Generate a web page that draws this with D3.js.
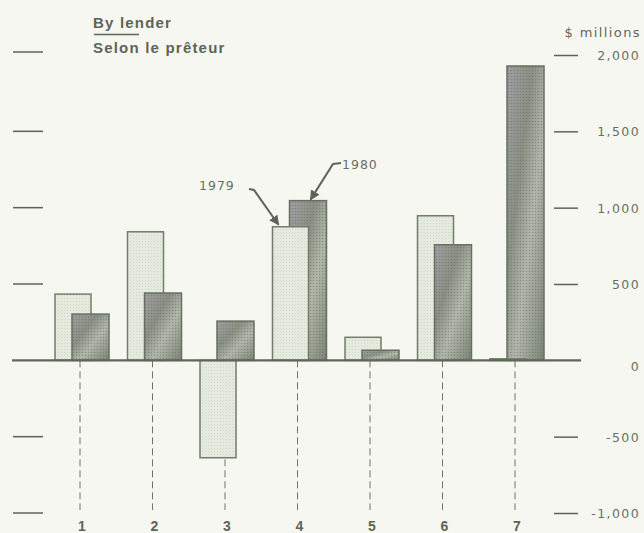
<!DOCTYPE html>
<html><head><meta charset="utf-8">
<script src="https://cdn.jsdelivr.net/npm/d3@7"></script>
<style>
html,body{margin:0;padding:0;background:#f7f7f2;}
svg{display:block;font-family:"Liberation Sans",Arial,sans-serif;}
</style></head>
<body>
<script>
const categories = ["1","2","3","4","5","6","7"];
const values1979 = [434, 842, -638, 875, 151, 947, 10];
const values1980 = [303, 441, 257, 1046, 66, 757, 1928];
const tickValues = [-1000, -500, 0, 500, 1000, 1500, 2000];
const tickLabels = ["-1,000", "-500", "0", "500", "1,000", "1,500", "2,000"];
const seriesNames = ["1979", "1980"];

const W = 644, H = 533;
const svg = d3.select("body").append("svg").attr("width", W).attr("height", H);
svg.append("rect").attr("width", W).attr("height", H).attr("fill", "#f7f7f2");

const defs = svg.append("defs");
const p1 = defs.append("pattern").attr("id","p79").attr("width",3).attr("height",3).attr("patternUnits","userSpaceOnUse");
p1.append("rect").attr("width",3).attr("height",3).attr("fill","#e4eadd");
p1.append("circle").attr("cx",1.5).attr("cy",1.5).attr("r",0.6).attr("fill","#cfd5c6");
const g2 = defs.append("linearGradient").attr("id","g80").attr("x1","0").attr("y1","0").attr("x2","1").attr("y2","1");
g2.append("stop").attr("offset","0%").attr("stop-color","#a39fa6");
g2.append("stop").attr("offset","35%").attr("stop-color","#8a9184");
g2.append("stop").attr("offset","60%").attr("stop-color","#b3b8ac");
g2.append("stop").attr("offset","100%").attr("stop-color","#7c8477");
const p2 = defs.append("pattern").attr("id","p80dots").attr("width",3).attr("height",3).attr("patternUnits","userSpaceOnUse");
p2.append("circle").attr("cx",1.5).attr("cy",1.5).attr("r",0.8).attr("fill","#5f675a").attr("opacity",0.45);

const y = d3.scaleLinear().domain([-1000, 2000]).range([513, 55]);
const x = d3.scalePoint().domain(categories).range([80, 515]);

const ink = "#5c6555";
const txt = "#68705f";
const wide = "'DejaVu Sans', Verdana, sans-serif";

// dashed category lines
svg.append("g").selectAll("line").data(categories).join("line")
  .attr("x1", d => x(d)).attr("x2", d => x(d))
  .attr("y1", y(0)).attr("y2", 510)
  .attr("stroke", "#6d7566").attr("stroke-width", 1).attr("stroke-dasharray", "7,4");

// bars: taller bar drawn first, shorter bar in front
const barData = [];
categories.forEach((c, i) => {
  const b79 = {c, s: 0, v: values1979[i]};
  const b80 = {c, s: 1, v: values1980[i]};
  if (Math.abs(b79.v) >= Math.abs(b80.v)) barData.push(b79, b80); else barData.push(b80, b79);
});
const offs = [[-25, 36], [-8, 37]];
const bars = svg.append("g");
const groups = bars.selectAll("g").data(barData).join("g");
groups.append("rect")
  .attr("x", d => x(d.c) + offs[d.s][0])
  .attr("width", d => offs[d.s][1])
  .attr("y", d => Math.min(y(d.v), y(0)))
  .attr("height", d => Math.abs(y(d.v) - y(0)))
  .attr("fill", d => d.s === 0 ? "url(#p79)" : "url(#g80)")
  .attr("stroke", d => d.s === 0 ? "#737c6a" : "#667060")
  .attr("stroke-width", 1.5);
groups.filter(d => d.s === 1).append("rect")
  .attr("x", d => x(d.c) + offs[d.s][0])
  .attr("width", d => offs[d.s][1])
  .attr("y", d => Math.min(y(d.v), y(0)))
  .attr("height", d => Math.abs(y(d.v) - y(0)))
  .attr("fill", "url(#p80dots)");

// baseline
svg.append("line").attr("x1", 12).attr("x2", 581).attr("y1", y(0)).attr("y2", y(0))
  .attr("stroke", "#5f6858").attr("stroke-width", 2.4);

// left ticks
svg.append("g").selectAll("line").data(tickValues.filter(v => v !== 0)).join("line")
  .attr("x1", 13).attr("x2", 43).attr("y1", d => y(d) - (d === 2000 ? 3 : 0)).attr("y2", d => y(d) - (d === 2000 ? 3 : 0))
  .attr("stroke", ink).attr("stroke-width", 1.5);

// right axis
const ra = svg.append("g").attr("transform", "translate(578,0)")
  .call(d3.axisLeft(y).tickValues(tickValues).tickSize(24).tickFormat((d,i) => tickLabels[i]));
ra.select(".domain").remove();
ra.selectAll(".tick line").attr("stroke", ink).attr("stroke-width", 1.5)
  .attr("display", d => d === 0 ? "none" : null);
ra.selectAll(".tick text").attr("x", 62).attr("text-anchor", "end")
  .attr("font-family", wide).attr("fill", txt).attr("font-size", 12.5).attr("letter-spacing", 1.4).attr("dy", "0.35em");
ra.selectAll(".tick").filter(d => d === 0).select("text").attr("dy", "0.8em");

svg.append("text").attr("x", 641).attr("y", 37).attr("text-anchor", "end")
  .attr("font-family", wide).attr("font-size", 13).attr("letter-spacing", 1.4).attr("fill", "#5f6858").text("$ millions");

// category labels
svg.append("g").selectAll("text").data(categories).join("text")
  .attr("x", d => x(d) + 2).attr("y", 531).attr("text-anchor", "middle")
  .attr("font-size", 14).attr("font-weight", "bold").attr("fill", "#5d6654").text(d => d);

// title
svg.append("text").attr("x", 93).attr("y", 28).attr("font-size", 15).attr("font-weight", "bold")
  .attr("letter-spacing", 1.2).attr("fill", "#5d6556").text("By lender");
svg.append("line").attr("x1", 94).attr("x2", 139).attr("y1", 34.5).attr("y2", 34.5)
  .attr("stroke", "#5d6556").attr("stroke-width", 1.3);
svg.append("text").attr("x", 93).attr("y", 53).attr("font-size", 15).attr("font-weight", "bold")
  .attr("letter-spacing", 1.2).attr("fill", "#5d6556").text("Selon le prêteur");

// annotations
defs.append("marker").attr("id","arr").attr("viewBox","0 0 10 10").attr("refX",9).attr("refY",5)
  .attr("markerWidth",5).attr("markerHeight",5).attr("orient","auto")
  .append("path").attr("d","M0,0L10,5L0,10z").attr("fill","#5d6556");
const a79x = x("4") + offs[0][0], a80x = x("4") + offs[1][0];
svg.append("text").attr("x", 199).attr("y", 190).attr("font-family", wide).attr("font-size", 12.5).attr("letter-spacing", 1)
  .attr("fill", txt).text(seriesNames[0]);
svg.append("path").attr("d", `M249,189 L254,190 L${a79x + 6},${y(values1979[3]) - 2}`)
  .attr("fill","none").attr("stroke","#5d6556").attr("stroke-width",2).attr("marker-end","url(#arr)");
svg.append("text").attr("x", 342).attr("y", 169).attr("font-family", wide).attr("font-size", 12.5).attr("letter-spacing", 1)
  .attr("fill", txt).text(seriesNames[1]);
svg.append("path").attr("d", `M341,163 L333,164 L${a80x + 21},${y(values1980[3]) - 1}`)
  .attr("fill","none").attr("stroke","#5d6556").attr("stroke-width",2).attr("marker-end","url(#arr)");
</script>
</body></html>
